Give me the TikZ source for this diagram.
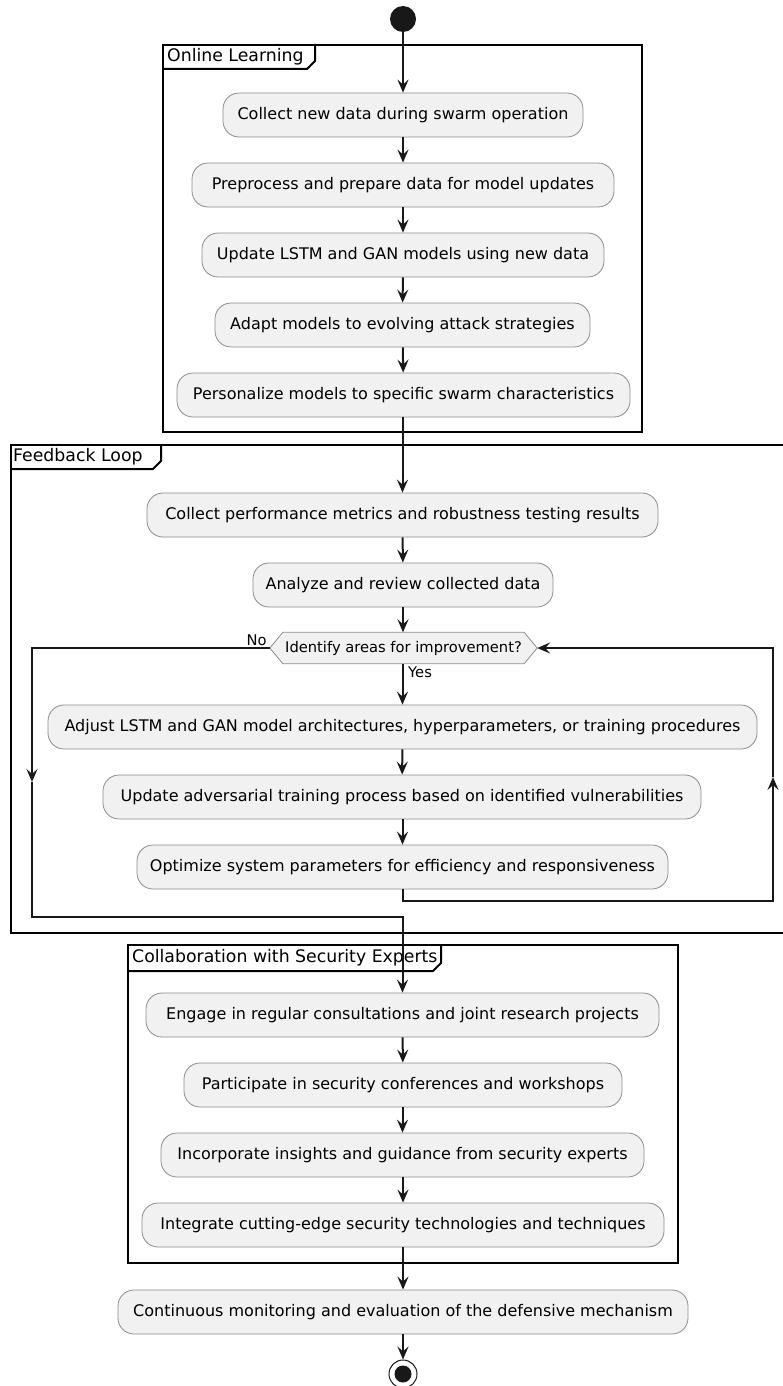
\documentclass[tikz,border=0pt]{standalone}
\usepackage{fontspec}
\setmainfont{DejaVu Sans}
\usetikzlibrary{arrows.meta,calc}
\definecolor{ink}{HTML}{181818}
\definecolor{boxfill}{HTML}{F1F1F1}
\definecolor{boxline}{HTML}{8C8C8C}
\newcommand\actfont{\fontsize{16}{19}\selectfont}
\newcommand\ttlfont{\fontsize{17.3}{20}\selectfont}
\newcommand\lblfont{\fontsize{14.7}{17}\selectfont}
\pgfdeclarelayer{bg}
\pgfsetlayers{bg,main}
\tikzset{
  act/.style={draw=boxline, fill=boxfill, line width=0.8pt, rounded corners=16pt,
    minimum height=44pt, inner xsep=0pt, inner ysep=0pt, font=\actfont, text=black},
  framebox/.style={draw=black, line width=2pt, inner sep=0pt},
  tabline/.style={draw=black, line width=2pt},
  ttl/.style={font=\ttlfont, inner sep=0pt, anchor=west, text=black},
  lbl/.style={font=\lblfont, inner sep=0pt, text=black},
  wire/.style={draw=ink, line width=2pt},
  flow/.style={draw=ink, line width=2pt, -{Stealth[length=13pt,width=11pt,inset=5pt]}},
}
\begin{document}
\begin{tikzpicture}[x=1pt,y=-1pt]
\useasboundingbox (0,0) rectangle (783,1386);

% ---------- group frames with their title tabs ----------
\node[framebox, minimum width=479pt, minimum height=387pt] (fOnline) at (402.5,238.5) {};
\draw[tabline] ([yshift=-25pt]fOnline.north west) -- ++(145,0) -- ++(8,-8) -- ++(0,-17);
\node[ttl] (tOnline) at ([xshift=5pt,yshift=-12.5pt]fOnline.north west) {Online Learning};

\node[framebox, minimum width=784pt, minimum height=488pt] (fLoop) at (403,689) {};
\draw[tabline] ([yshift=-25pt]fLoop.north west) -- ++(143,0) -- ++(8,-8) -- ++(0,-17);
\node[ttl] (tLoop) at ([xshift=3pt,yshift=-12.5pt]fLoop.north west) {Feedback Loop};

\node[framebox, minimum width=550pt, minimum height=318pt] (fCollab) at (403,1104) {};
\draw[tabline] ([yshift=-27pt]fCollab.north west) -- ++(306,0) -- ++(8,-8) -- ++(0,-19);
\node[ttl] (tCollab) at ([xshift=5pt,yshift=-13.5pt]fCollab.north west) {Collaboration with Security Experts};

% ---------- start node ----------
\node[circle, fill=ink, minimum size=26pt, inner sep=0pt] (start) at (403,19) {};

% ---------- online learning ----------
\node[act, minimum width=360pt] (b1) at (403,115) {Collect new data during swarm operation};
\node[act, minimum width=422pt] (b2) at (403,185) {Preprocess and prepare data for model updates};
\node[act, minimum width=402pt] (b3) at (403,255) {Update LSTM and GAN models using new data};
\node[act, minimum width=375pt] (b4) at (402.5,325) {Adapt models to evolving attack strategies};
\node[act, minimum width=453pt] (b5) at (403.5,395) {Personalize models to specific swarm characteristics};

% ---------- feedback loop ----------
\node[act, minimum width=511pt] (c1) at (402.5,515) {Collect performance metrics and robustness testing results};
\node[act, minimum width=300pt] (c2) at (403,585) {Analyze and review collected data};
\node[lbl, minimum width=267pt, minimum height=31pt] (dec) at (403.5,648) {Identify areas for improvement?};
\begin{pgfonlayer}{bg}
  \draw[boxline, fill=boxfill, line width=0.8pt]
    (dec.west) -- ([xshift=13pt]dec.north west) -- ([xshift=-13pt]dec.north east)
    -- (dec.east) -- ([xshift=-13pt]dec.south east) -- ([xshift=13pt]dec.south west) -- cycle;
\end{pgfonlayer}
\node[lbl, anchor=base east] (no) at ([xshift=-3pt,yshift=3pt]dec.west) {No};
\node[lbl, anchor=north west] (yes) at ([xshift=4.5pt,yshift=-3pt]dec.south) {Yes};

\node[act, minimum width=709pt] (a1) at (402.5,727) {Adjust LSTM and GAN model architectures, hyperparameters, or training procedures};
\node[act, minimum width=598pt] (a2) at (402,797) {Update adversarial training process based on identified vulnerabilities};
\node[act, minimum width=531pt] (a3) at (402.5,867) {Optimize system parameters for efficiency and responsiveness};

% ---------- collaboration ----------
\node[act, minimum width=513pt] (e1) at (402.5,1015) {Engage in regular consultations and joint research projects};
\node[act, minimum width=438pt] (e2) at (403,1085) {Participate in security conferences and workshops};
\node[act, minimum width=483pt] (e3) at (402.5,1155) {Incorporate insights and guidance from security experts};
\node[act, minimum width=522pt] (e4) at (403,1225) {Integrate cutting-edge security technologies and techniques};
\node[act, minimum width=570pt] (fin) at (403,1312) {Continuous monitoring and evaluation of the defensive mechanism};

% ---------- end node ----------
\node[circle, draw=ink, line width=1pt, fill=white, minimum size=28pt, inner sep=0pt] (stop) at (403,1374) {};
\node[circle, fill=ink, minimum size=17pt, inner sep=0pt] (stopdot) at (stop.center) {};

% ---------- connectors ----------
\draw[flow] (start) -- (b1);
\draw[flow] (b1) -- (b2);
\draw[flow] (b2) -- (b3);
\draw[flow] (b3) -- (b4);
\draw[flow] (b4) -- (b5);
\draw[flow] (b5.south -| c1.north) -- (c1.north);
\draw[flow] (c1) -- (c2);
\draw[flow] (c2.south) -- (dec.north -| c2.south);
\draw[flow] (dec.south -| a1.north) -- (a1.north);
\draw[flow] (a1) -- (a2);
\draw[flow] (a2.south -| a3.north) -- (a3.north);

% repeat branch back to the decision
\coordinate (loopA) at (402.5,901);
\coordinate (loopB) at (773,901);
\coordinate (loopMid) at (773,777);
\draw[flow] (a3.south) -- (loopA) -- (loopB) -- (loopMid);
\draw[flow] (loopMid) |- (dec.east);

% exit branch
\coordinate (noMid) at (32,782);
\coordinate (noA) at (32,917);
\coordinate (noB) at (402.5,917);
\draw[flow] (dec.west) -| (noMid);
\draw[flow] (noMid) -- (noA) -- (noB) -- (e1.north -| noB);

\draw[flow] (e1) -- (e2);
\draw[flow] (e2.south -| e3.north) -- (e3.north);
\draw[flow] (e3.south -| e4.north) -- (e4.north);
\draw[flow] (e4) -- (fin);
\draw[flow] (fin) -- (stop);
\end{tikzpicture}
\end{document}
